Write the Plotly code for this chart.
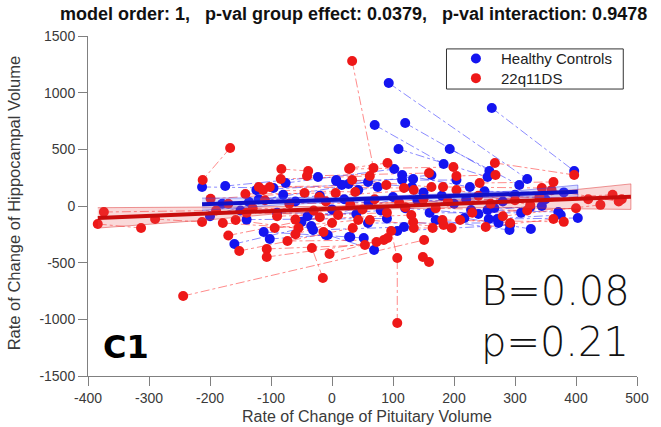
import plotly.graph_objects as go

# ---------------- data ----------------
# Healthy Controls: point coordinates and subject id (points of one subject are linked)
hc_x = [-213, -96, -175, -23, -160, -34, -112, 30, -102, -10, -31, 118, -76, 102, 7, 133,
        27, 163, -124, 16, -136, 59, 93, 320, 262, 397, 70, 183, 120, 258, 109, 255,
        193, 307, 115, 226, 115, 204, 7, 131, 43, 75, 403, 271, 375, 257, 371, 228,
        326, 217, 291, 170, 292, 107, 273, 59, 255, 344, 325, 266, 69, -7, 52, 28,
        -180, -20, -150, 0, -120, 20, -90, 40, -60, 60, -40, 80, 100, 200, 120, 240,
        140, 280, 160, 310, 180, 300, 220, 350, 250, 380, -200, -80, -140, 90, 150, -50]
hc_y = [168, 159, 176, 256, -335, -176, -229, -274, -291, -256, -212, -185, 203, 326, 221, 238,
        194, 274, 141, 185, 35, 212, 1085, 238, 865, 309, 715, 371, 732, 309, 503, 256,
        503, 185, 274, 168, 229, 229, 229, 168, 141, 168, -106, -115, -79, -115, -53, -35,
        -203, -106, -212, -124, -168, -221, -150, -150, -35, 0, -9, -18, -388, -256, -282, -274,
        20, 90, -40, -30, 60, 60, -60, -70, 40, 30, -90, -40, 80, 20, -20, -70,
        50, 40, -60, -60, 90, 100, 60, 60, 130, 120, -90, 100, -120, -110, 120, -140]
hc_subj = [i // 2 for i in range(len(hc_x))]

# 22q11DS
ds_x = [33, 68, -167, -212, -244, 151, 107, 107, 97, -15, -33, -384, -313, -374, -190,
        -290, -213, -199, -45, -179, -55, -158, -14, -152, 34, -107, 54, -107, 73, -94, 43,
        -73, 85, -4, 91, -83, -39, -84, 62, -41, 159, 28, 199, -120, 89, -113, 38,
        -142, 6, -102, 118, -21, 134, 267, 397, 268, 204, 242, 363, 30, 91, 182, 344,
        33, 163, 204, 325, 363, 252, 292, 210, 196, 62, 183, 133, 181, 380, 165, 134,
        149, 159, -170, -10, -140, 10, -130, 50, -110, 70, -90, 90, -70, 110, -60, 130,
        -30, 150, 170, 320, 190, 340, 230, 400, 260, 420, 280, 440, 300, 460, 240, 475,
        360, 470, -60, 0, -170, -20, 30, 120]
ds_y = [1280, 335, 512, 230, -794, -300, -1032, -459, -221, -635, -370, -159, -194, -53, -40,
        -115, -141, 64, 115, -150, -194, -124, -229, -397, -194, -379, -344, -450, -318, -194, -124,
        -309, -300, -424, -282, 326, 309, 238, 265, 265, 291, 326, 344, 168, 185, 141, 124,
        106, 115, 168, 159, 80, 141, 380, 274, 274, 265, 203, 212, 335, 380, 168, 159,
        229, 168, 141, 9, -115, -185, -150, -124, -194, -124, -168, -141, -124, -140, -194, -194,
        -450, -494, 20, 40, -60, -80, -20, -30, 50, 60, -90, -60, 20, 30, -120, -80,
        -40, 60, -20, -40, 40, 80, -60, -20, 20, 60, -90, 10, 50, 100, 90, 60,
        140, 40, -250, -150, -260, -100, 10, -10]
ds_subj = [0, 0, 1, 1, 2, 2, 3, 3, 3, 4, 4, 5, 5, 6, 6] + [7 + i // 2 for i in range(len(ds_x) - 15)]

# fitted group lines and confidence bands
hc_fit_x = [-213, 403]
hc_fit_y = [15, 125]
hc_band_x = [-213, -100, 0, 100, 200, 300, 403]
hc_band_lo = [-40, 5, 33, 53, 70, 82, 65]
hc_band_hi = [70, 70, 73, 89, 108, 132, 185]

ds_fit_x = [-384, 490]
ds_fit_y = [-105, 82]
ds_band_x = [-384, -200, -100, 0, 100, 200, 300, 400, 490]
ds_band_lo = [-195, -121, -73, -43, -25, -15, -15, -25, -30]
ds_band_hi = [-15, -11, -10, -3, 20, 55, 98, 145, 195]

group_names = ["Healthy Controls", "22q11DS"]
group_colors = ["#1414f0", "#ee1818"]

x_ticks = [-400, -300, -200, -100, 0, 100, 200, 300, 400, 500]
y_ticks = [-1500, -1000, -500, 0, 500, 1000, 1500]

title_text = "model order: 1,\u00a0\u00a0 p-val group effect: 0.0379,\u00a0\u00a0 p-val interaction: 0.9478"

# ---------------- figure ----------------
def subject_paths(xs, ys, ids):
    px, py = [], []
    last = None
    for x, y, s in zip(xs, ys, ids):
        if last is not None and s != last:
            px.append(None)
            py.append(None)
        px.append(x)
        py.append(y)
        last = s
    return px, py

fig = go.Figure()

bx, by = subject_paths(hc_x, hc_y, hc_subj)
rx, ry = subject_paths(ds_x, ds_y, ds_subj)
fig.add_trace(go.Scatter(x=bx, y=by, mode="lines", showlegend=False, hoverinfo="skip",
                         line=dict(color="rgba(40,40,255,0.6)", width=0.9, dash="dashdot")))
fig.add_trace(go.Scatter(x=rx, y=ry, mode="lines", showlegend=False, hoverinfo="skip",
                         line=dict(color="rgba(255,40,40,0.6)", width=0.9, dash="dashdot")))

fig.add_trace(go.Scatter(x=hc_x, y=hc_y, mode="markers", name=group_names[0], showlegend=False,
                         marker=dict(color=group_colors[0], size=10)))
fig.add_trace(go.Scatter(x=ds_x, y=ds_y, mode="markers", name=group_names[1], showlegend=False,
                         marker=dict(color=group_colors[1], size=10)))

# bands
fig.add_trace(go.Scatter(x=ds_band_x + ds_band_x[::-1], y=ds_band_hi + ds_band_lo[::-1],
                         fill="toself", fillcolor="rgba(230,80,80,0.22)", mode="lines",
                         line=dict(color="rgba(220,40,40,0.6)", width=0.8),
                         showlegend=False, hoverinfo="skip"))
fig.add_trace(go.Scatter(x=hc_band_x + hc_band_x[::-1], y=hc_band_hi + hc_band_lo[::-1],
                         fill="toself", fillcolor="rgba(90,110,255,0.22)", mode="lines",
                         line=dict(color="rgba(60,60,230,0.6)", width=0.8),
                         showlegend=False, hoverinfo="skip"))
fig.add_trace(go.Scatter(x=hc_fit_x, y=hc_fit_y, mode="lines", showlegend=False,
                         line=dict(color="#1010c8", width=4), hoverinfo="skip"))
fig.add_trace(go.Scatter(x=ds_fit_x, y=ds_fit_y, mode="lines", showlegend=False,
                         line=dict(color="#c80c0c", width=4), hoverinfo="skip"))

# legend box (drawn on an overlay axis spanning the plot area as 0..1)
leg_x_marker = 0.7066
leg_x_text = 0.7496
leg_rows = [0.934, 0.876]
fig.add_trace(go.Scatter(x=[leg_x_marker, leg_x_marker], y=leg_rows, xaxis="x2", yaxis="y2",
                         mode="markers", showlegend=False, hoverinfo="skip",
                         marker=dict(color=group_colors, size=10)))

axis_common = dict(showline=True, linecolor="#808080", linewidth=1, ticks="outside",
                   ticklen=9, tickcolor="#808080", showgrid=False, zeroline=False,
                   tickfont=dict(family="Liberation Sans", size=14, color="#3a3a3a"))
fig.update_xaxes(range=[-400, 500], tickvals=x_ticks, ticktext=[str(v) for v in x_ticks],
                 **axis_common)
fig.update_yaxes(range=[-1500, 1500], tickvals=y_ticks, ticktext=[str(v) for v in y_ticks],
                 **axis_common)

annotations = [
    dict(text="<b>" + title_text + "</b>", xref="paper", yref="paper", x=0.483, y=1.065,
         showarrow=False, xanchor="center", yanchor="middle",
         font=dict(family="Liberation Sans", size=18, color="#111")),
    dict(text="Rate of Change of Hippocampal Volume", xref="paper", yref="paper",
         x=-0.134, y=0.509, textangle=-90, showarrow=False, xanchor="center", yanchor="middle",
         font=dict(family="Liberation Sans", size=16.5, color="#3a3a3a")),
    dict(text="Rate of Change of Pituitary Volume", xref="paper", yref="paper",
         x=0.508, y=-0.118, showarrow=False, xanchor="center", yanchor="middle",
         font=dict(family="Liberation Sans", size=16, color="#3a3a3a")),
    dict(text="<b>C1</b>", xref="paper", yref="paper", x=0.0698, y=0.085,
         showarrow=False, xanchor="center", yanchor="middle",
         font=dict(family="DejaVu Sans", size=32, color="#000")),
    dict(text="B=0.08", xref="paper", yref="paper", x=0.712, y=0.25,
         showarrow=False, xanchor="left", yanchor="middle",
         font=dict(family="DejaVu Sans", size=40, color="#111", weight=200)),
    dict(text="p=0.21", xref="paper", yref="paper", x=0.712, y=0.1,
         showarrow=False, xanchor="left", yanchor="middle",
         font=dict(family="DejaVu Sans", size=40, color="#111", weight=200)),
    dict(text="<br>".join(group_names), xref="paper", yref="paper", x=leg_x_text,
         y=(leg_rows[0] + leg_rows[1]) / 2, showarrow=False, xanchor="left", yanchor="middle",
         align="left", borderpad=0,
         font=dict(family="Liberation Sans", size=15, color="#222")),
]

fig.update_layout(
    width=661, height=427,
    margin=dict(l=88, r=14, t=36, b=51),
    paper_bgcolor="white", plot_bgcolor="white",
    showlegend=False,
    xaxis2=dict(overlaying="x", range=[0, 1], visible=False),
    yaxis2=dict(overlaying="y", range=[0, 1], visible=False),
    shapes=[dict(type="rect", xref="paper", yref="paper", x0=0.653, x1=0.975, y0=0.844, y1=0.962,
                 line=dict(color="#333333", width=1), fillcolor="white", layer="below")],
    annotations=annotations,
)

fig.write_html("out.html")
